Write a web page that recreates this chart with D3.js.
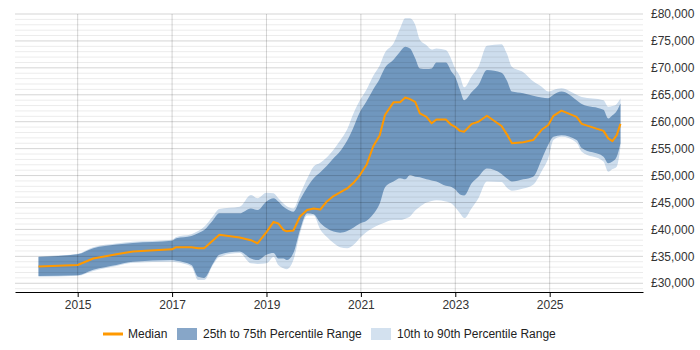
<!DOCTYPE html>
<html>
<head>
<meta charset="utf-8">
<script src="https://cdn.jsdelivr.net/npm/d3@7"></script>
<style>
  body { margin: 0; background: #fff; }
  text { font-family: "Liberation Sans", Arial, sans-serif; }
</style>
</head>
<body>
<script>
// dates as decimal years, values in thousands of pounds
var dates = [2014.17, 2015.0, 2015.33, 2015.82, 2016.17, 2017.0, 2017.09, 2017.41, 2017.55, 2017.68,
  2017.87, 2018.0, 2018.43, 2018.67, 2018.81, 2019.0, 2019.15, 2019.25, 2019.36, 2019.43,
  2019.57, 2019.71, 2019.86, 2020.0, 2020.14, 2020.28, 2020.42, 2020.56, 2020.71, 2020.84,
  2020.98, 2021.12, 2021.26, 2021.4, 2021.51, 2021.69, 2021.83, 2021.94, 2022.04, 2022.15,
  2022.25, 2022.39, 2022.5, 2022.6, 2022.8, 2022.92, 2022.99, 2023.1, 2023.19, 2023.35,
  2023.49, 2023.67, 2023.98, 2024.09, 2024.2, 2024.44, 2024.65, 2024.83, 2024.97, 2025.08,
  2025.25, 2025.57, 2025.68, 2026.14, 2026.24, 2026.33, 2026.42, 2026.5];

var median = [33.1, 33.4, 34.6, 35.4, 35.9, 36.3, 36.7, 36.7, 36.5, 36.5,
  38.0, 39.0, 38.5, 38.0, 37.4, 39.5, 41.4, 41.1, 39.9, 39.65,
  39.8, 42.4, 43.6, 43.9, 43.7, 45.2, 46.2, 46.9, 47.6, 48.6,
  50.1, 52.0, 55.4, 57.5, 61.25, 63.6, 63.6, 64.5, 64.2, 63.7,
  61.55, 60.9, 59.7, 60.4, 60.4, 59.4, 59.1, 58.3, 58.15, 59.6,
  60.0, 61.1, 59.2, 57.7, 56.0, 56.2, 56.6, 58.5, 59.4, 61.1,
  62.05, 60.9, 59.6, 58.3, 56.9, 56.4, 57.5, 59.6];

var p25 = [31.35, 31.5, 32.5, 33.4, 34.0, 34.3, 34.2, 33.4, 31.2, 31.0,
  33.7, 35.3, 35.9, 34.6, 34.3, 35.3, 35.6, 34.6, 34.6, 34.3,
  35.6, 39.9, 43.0, 42.8, 41.2, 40.2, 39.6, 39.4, 39.7, 40.3,
  41.1, 41.6, 42.8, 44.8, 47.8, 48.9, 49.5, 49.3, 50.1, 49.8,
  49.7, 49.3, 49.1, 48.9, 48.1, 47.9, 47.5, 46.5, 46.3, 48.6,
  49.8, 51.3, 50.3, 49.5, 48.9, 49.3, 49.8, 53.0, 55.7, 57.2,
  57.5, 56.6, 55.1, 53.5, 52.3, 52.6, 53.5, 56.0];

var p75 = [34.9, 35.4, 36.5, 37.2, 37.5, 37.9, 38.35, 38.8, 39.3, 39.9,
  41.75, 43.0, 43.0, 43.9, 43.6, 45.2, 45.8, 45.2, 44.2, 43.8,
  43.3, 45.5, 47.8, 49.5, 50.6, 51.8, 53.2, 54.5, 56.5, 58.9,
  61.8, 63.8, 66.0, 68.0, 70.0, 71.5, 73.0, 73.9, 73.6, 71.8,
  69.9, 69.8, 69.9, 71.0, 71.0, 69.3, 68.5, 65.9, 64.0, 65.5,
  66.8, 69.6, 69.1, 67.7, 65.6, 65.3, 64.8, 64.5, 64.35, 65.0,
  65.6, 64.0, 63.3, 62.2, 60.6, 61.2, 62.0, 63.4];

var p10 = [31.2, 31.4, 32.3, 33.2, 33.8, 34.0, 33.9, 33.1, 30.6, 30.6,
  33.5, 34.9, 35.6, 33.7, 33.6, 33.7, 34.9, 33.4, 32.8, 32.6,
  34.3, 39.3, 42.6, 42.6, 40.0, 38.6, 37.5, 36.7, 36.5, 37.1,
  38.4, 39.5, 40.3, 40.9, 41.3, 41.75, 41.75, 42.0, 42.4, 43.5,
  44.2, 45.0, 45.3, 45.4, 45.2, 44.8, 44.2, 43.0, 42.1, 44.0,
  45.8, 48.9, 48.8, 47.8, 47.2, 47.6, 48.3, 50.8, 53.2, 56.6,
  57.2, 56.1, 54.4, 52.6, 50.7, 51.2, 51.65, 55.4];

var p90 = [35.0, 35.5, 36.7, 37.4, 37.7, 38.1, 38.6, 39.1, 39.7, 40.5,
  42.5, 43.8, 44.2, 46.4, 45.8, 46.8, 46.7, 45.8, 44.8, 44.3,
  43.9, 46.5, 49.4, 51.7, 52.4, 53.4, 54.8, 56.5, 58.6, 61.5,
  64.0, 66.0, 68.5, 70.5, 72.8, 74.5, 77.3, 79.2, 79.2, 78.0,
  75.2, 74.2, 73.4, 73.6, 73.3, 71.5, 70.0, 68.4, 66.4, 68.5,
  70.2, 74.1, 74.4, 72.7, 70.2, 69.2, 67.5, 66.5, 65.6, 65.9,
  66.2, 65.0, 64.6, 64.0, 62.8, 62.9, 63.3, 64.35];

var yearTicks = [2015, 2017, 2019, 2021, 2023, 2025];
var salaryTicks = [30000, 35000, 40000, 45000, 50000, 55000, 60000, 65000, 70000, 75000, 80000];
var legendLabels = ['Median', '25th to 75th Percentile Range', '10th to 90th Percentile Range'];

var width = 700, height = 350;
var plot = { left: 15, right: 643, top: 14, bottom: 292 };

var rows = dates.map(function(d, i){
  return { t: d, med: median[i] * 1000, p25: p25[i] * 1000, p75: p75[i] * 1000,
           p10: p10[i] * 1000, p90: p90[i] * 1000 };
});

var x = d3.scaleLinear()
          .domain([2013.672, 2026.977])
          .range([plot.left, plot.right]);

var y = d3.scaleLinear()
          .domain([28380, 80000])
          .range([plot.bottom, plot.top]);

var svg = d3.select('body')
            .append('svg')
            .attr('width', width)
            .attr('height', height);

// bands
var outer = d3.area()
              .curve(d3.curveMonotoneX)
              .x(function(d){ return x(d.t); })
              .y0(function(d){ return y(d.p10); })
              .y1(function(d){ return y(d.p90); });

var inner = d3.area()
              .curve(d3.curveMonotoneX)
              .x(function(d){ return x(d.t); })
              .y0(function(d){ return y(d.p25); })
              .y1(function(d){ return y(d.p75); });

svg.append('path')
   .datum(rows)
   .attr('d', outer)
   .style('fill', '#cddded');

svg.append('path')
   .datum(rows)
   .attr('d', inner)
   .style('fill', '#7097be');

// grid goes over the bands, faintly
var grid = svg.append('g');
var minor = d3.range(29000, 80001, 1000).filter(function(v){ return v % 5000 !== 0; });

grid.selectAll('line.minor')
    .data(minor)
    .enter()
      .append('line')
      .attr('x1', plot.left)
      .attr('x2', plot.right)
      .attr('y1', function(d){ return y(d); })
      .attr('y2', function(d){ return y(d); })
      .style('stroke', 'rgba(0,0,0,0.08)');

grid.selectAll('line.major')
    .data(salaryTicks)
    .enter()
      .append('line')
      .attr('x1', plot.left)
      .attr('x2', plot.right)
      .attr('y1', function(d){ return y(d); })
      .attr('y2', function(d){ return y(d); })
      .style('stroke', 'rgba(0,0,0,0.17)');

grid.selectAll('line.vert')
    .data(yearTicks)
    .enter()
      .append('line')
      .attr('x1', function(d){ return x(d); })
      .attr('x2', function(d){ return x(d); })
      .attr('y1', plot.top)
      .attr('y2', plot.bottom)
      .style('stroke', 'rgba(0,0,0,0.17)');

// median line
var line = d3.line()
             .x(function(d){ return x(d.t); })
             .y(function(d){ return y(d.med); });

svg.append('path')
   .datum(rows)
   .attr('d', line)
   .style('fill', 'none')
   .style('stroke', '#ff9900')
   .style('stroke-width', 2)
   .style('stroke-linejoin', 'round');

// axes
var xAxis = svg.append('g')
               .attr('transform', 'translate(0,' + plot.bottom + ')')
               .call(d3.axisBottom(x).tickValues(yearTicks).tickFormat(d3.format('d')).tickSize(5).tickSizeOuter(0));
xAxis.select('.domain').style('stroke', '#000');
xAxis.selectAll('.tick line').style('stroke', '#000');
xAxis.selectAll('text')
     .attr('dy', '0.71em')
     .attr('y', 8)
     .style('font-size', '12px')
     .style('font-family', '"Liberation Sans", Arial, sans-serif')
     .style('fill', '#333');

svg.append('g')
   .selectAll('text')
   .data(salaryTicks)
   .enter()
     .append('text')
     .attr('x', 651)
     .attr('y', function(d){ return y(d); })
     .attr('dy', '0.35em')
     .style('font-size', '12px')
     .style('fill', '#333')
     .text(function(d){ return '£' + d3.format(',')(d); });

// legend
var legend = svg.append('g').attr('transform', 'translate(0,334)');

legend.append('line')
      .attr('x1', 103).attr('x2', 123)
      .attr('y1', 0).attr('y2', 0)
      .style('stroke', '#ff9900')
      .style('stroke-width', 3);
legend.append('text').attr('x', 128).attr('y', 0).attr('dy', '0.35em')
      .style('font-size', '12px').style('fill', '#222').text(legendLabels[0]);

legend.append('rect')
      .attr('x', 177).attr('y', -6).attr('width', 20).attr('height', 12)
      .style('fill', '#87a6c8');
legend.append('text').attr('x', 203).attr('y', 0).attr('dy', '0.35em')
      .style('font-size', '12px').style('fill', '#222').text(legendLabels[1]);

legend.append('rect')
      .attr('x', 371).attr('y', -6).attr('width', 20).attr('height', 12)
      .style('fill', '#d3e1ef');
legend.append('text').attr('x', 397).attr('y', 0).attr('dy', '0.35em')
      .style('font-size', '12px').style('fill', '#222').text(legendLabels[2]);
</script>
</body>
</html>
